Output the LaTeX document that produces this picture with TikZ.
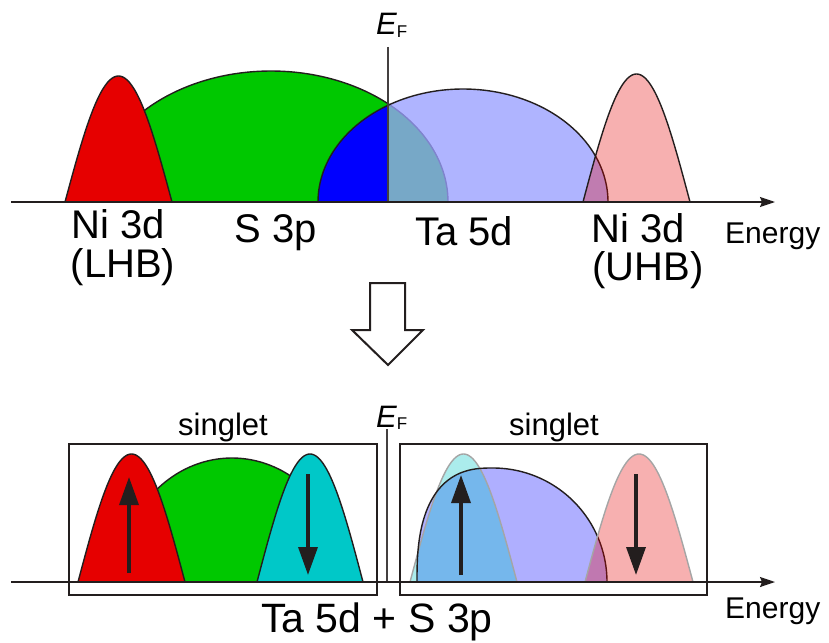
\documentclass[tikz,border=0pt]{standalone}
\usepackage{fontspec}
\setmainfont{Liberation Sans}
\usetikzlibrary{arrows.meta}
\definecolor{ink}{RGB}{35,30,30}
\definecolor{redb}{RGB}{230,0,0}
\definecolor{greenb}{RGB}{0,200,0}
\definecolor{blueb}{RGB}{0,0,255}
\definecolor{lavt}{RGB}{153,160,255}
\definecolor{lav}{RGB}{175,175,255}
\definecolor{cyanb}{RGB}{0,200,200}
\definecolor{grayline}{RGB}{165,165,165}
\newcommand\bellp[4]{plot[domain=-1:1,samples=81] ({#1+#2*\x},{#3-#4*cos(90*\x)})}
\newcommand\halfell[4]{plot[domain=180:0,samples=91] ({#1+#2*cos(\x)},{#3-#4*sin(\x)})}
% skewed band: left superellipse part, right elliptic part
\newcommand\skewband{plot[domain=180:90,samples=60] ({493-76*pow(abs(cos(\x))+0.0001,0.769)},{582-114*pow(abs(sin(\x))+0.0001,0.769)}) -- plot[domain=90:0,samples=60] ({493+114*cos(\x)},{582-114*sin(\x)})}
\tikzset{
  outl/.style={draw=ink,line width=1.4pt,line join=round},
  axisline/.style={draw=ink,line width=1.5pt,-{Stealth[length=15pt,width=10pt,inset=2pt]}},
  efline/.style={draw=ink!85,line width=1.5pt},
  spin/.style={draw=ink,line width=3.5pt,-{Triangle[length=28pt,width=19pt]}},
  bigl/.style={inner sep=0pt,font=\fontsize{40}{40}\selectfont,text=black},
  enl/.style={inner sep=0pt,font=\fontsize{30}{30}\selectfont,text=black},
  sgl/.style={inner sep=0pt,font=\fontsize{31}{31}\selectfont,text=black},
  sumlbl/.style={inner sep=0pt,font=\fontsize{41}{41}\selectfont,text=black},
  boxl/.style={draw=ink,line width=1.5pt}
}
\begin{document}
\begin{tikzpicture}[x=1pt,y=-1pt]
\useasboundingbox[fill=white] (0,0) rectangle (829,642);

% ---------- top panel ----------
\fill[greenb] \halfell{271}{177}{202}{131} -- cycle;
\draw[outl] \halfell{271}{177}{202}{131};
\fill[lavt,fill opacity=0.78] \halfell{463}{145}{202}{113} -- cycle;
\begin{scope}
  \clip (0,0) rectangle (388,202);
  \fill[blueb] \halfell{463}{145}{202}{113} -- cycle;
\end{scope}
\draw[outl] \halfell{463}{145}{202}{113};
\draw[outl,fill=redb] \bellp{118.5}{53.5}{202}{126} -- cycle;
\fill[redb,fill opacity=0.31] \bellp{636.5}{53.5}{202}{128} -- cycle;
\draw[outl] \bellp{636.5}{53.5}{202}{128};
\draw[efline] (388,47) -- (388,202);
\draw[axisline] (11,202) -- (775,202);

\node[inner sep=0pt,anchor=base west] (ef1) at (376,35)
  {{\fontsize{31}{31}\selectfont\itshape E}\raisebox{-2pt}{\fontsize{17}{17}\selectfont F}};
\node[bigl,anchor=base] (ni1) at (118,238) {Ni 3d};
\node[bigl,anchor=base] (lhb) at (123,277) {(LHB)};
\node[bigl,anchor=base] (s3p) at (276,242) {S 3p};
\node[bigl,anchor=base] (ta5d) at (464,245) {Ta 5d};
\node[bigl,anchor=base] (ni2) at (638,242) {Ni 3d};
\node[bigl,anchor=base] (uhb) at (648,280) {(UHB)};
\node[enl,anchor=base west] (en1) at (725,243) {Energy};

% ---------- hollow arrow ----------
\draw[ink,line width=2pt,fill=white,line join=miter]
  (370,283) -- (405,283) -- (405,330) -- (423,330) -- (388,365)
  -- (352,330) -- (370,330) -- cycle;

% ---------- bottom panel ----------
% left box
\fill[greenb] \halfell{232}{113}{582}{124} -- cycle;
\draw[outl] \halfell{232}{113}{582}{124};
\draw[outl,fill=redb] \bellp{131.5}{53.5}{582}{128} -- cycle;
\draw[outl,fill=cyanb] \bellp{310}{53}{582}{128} -- cycle;

% right box
\fill[lav] \skewband -- cycle;
\fill[cyanb,fill opacity=0.33] \bellp{463.5}{53.5}{582}{128} -- cycle;
\draw[grayline,line width=1.4pt] \bellp{463.5}{53.5}{582}{128};
\draw[outl] \skewband;
\fill[redb,fill opacity=0.31] \bellp{639}{54}{582}{128} -- cycle;
\draw[grayline,line width=1.4pt] \bellp{639}{54}{582}{128};

% spin arrows
\draw[spin] (129,573) -- (129,477);
\draw[spin] (308,474) -- (308,575);
\draw[spin] (461,575) -- (461,475);
\draw[spin] (636,474) -- (636,575);

% boxes, EF, axis
\draw[boxl] (69,444) rectangle (377,595);
\draw[boxl] (400,444) rectangle (707,595);
\draw[efline] (387,429) -- (387,583);
\draw[axisline] (11,582) -- (775,582);

\node[inner sep=0pt,anchor=base west] (ef2) at (376,427)
  {{\fontsize{31}{31}\selectfont\itshape E}\raisebox{-2pt}{\fontsize{17}{17}\selectfont F}};
\node[sgl,anchor=base] (sg1) at (223,435) {singlet};
\node[sgl,anchor=base] (sg2) at (554,435) {singlet};
\node[sumlbl,anchor=base] (sum) at (377,632) {Ta 5d + S 3p};
\node[enl,anchor=base west] (en2) at (725,618) {Energy};
\end{tikzpicture}
\end{document}
